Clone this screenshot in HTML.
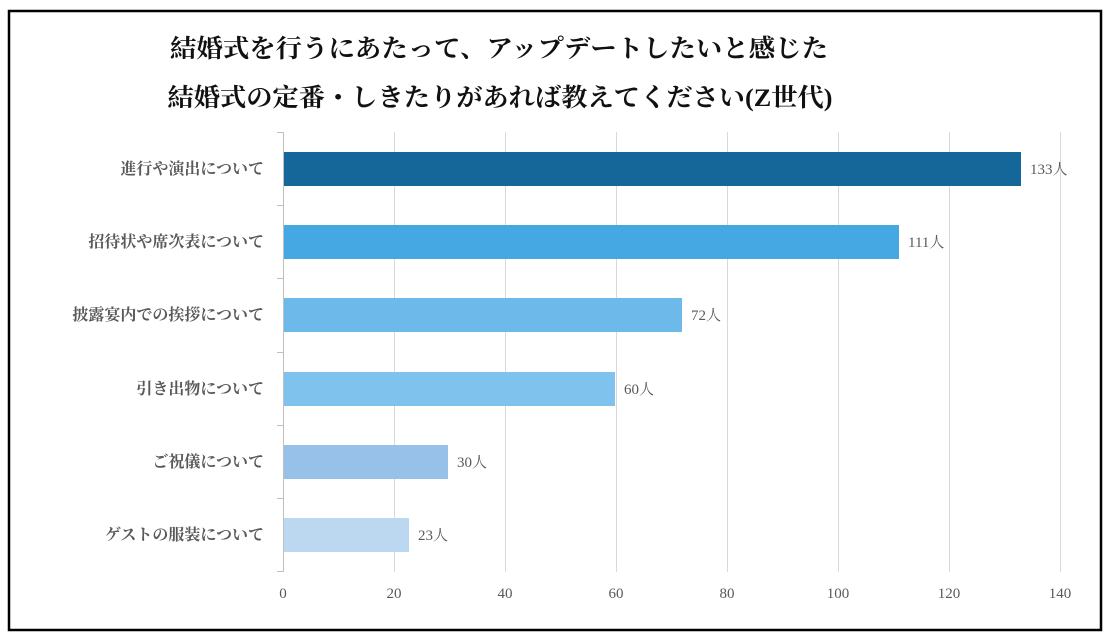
<!DOCTYPE html>
<html><head><meta charset="utf-8"><style>
html,body{margin:0;padding:0;background:#fff;}
body{width:1115px;height:644px;position:relative;overflow:hidden;}
</style></head><body>
<svg width="1115" height="644" xmlns="http://www.w3.org/2000/svg" style="position:absolute;left:0;top:0">
<rect x="9" y="11" width="1092" height="619" fill="#fff" stroke="#000" stroke-width="2.5"/>
<g font-family="'Liberation Serif','Noto Serif CJK SC',serif" font-weight="bold" font-size="25" fill="#111" text-anchor="middle">
<text x="499" y="57" textLength="658" lengthAdjust="spacingAndGlyphs">結婚式を行うにあたって、アップデートしたいと感じた</text>
<text x="500" y="106" textLength="665" lengthAdjust="spacingAndGlyphs">結婚式の定番・しきたりがあれば教えてください(Z世代)</text>
</g>
<g stroke="#d9d9d9" stroke-width="1">
<line x1="394.5" y1="132" x2="394.5" y2="572"/>
<line x1="505.5" y1="132" x2="505.5" y2="572"/>
<line x1="616.5" y1="132" x2="616.5" y2="572"/>
<line x1="727.5" y1="132" x2="727.5" y2="572"/>
<line x1="838.5" y1="132" x2="838.5" y2="572"/>
<line x1="949.5" y1="132" x2="949.5" y2="572"/>
<line x1="1060.5" y1="132" x2="1060.5" y2="572"/>
<line x1="283.5" y1="132" x2="283.5" y2="572" stroke="#bfbfbf"/>
<g stroke="#bfbfbf">
<line x1="277" y1="132.5" x2="283" y2="132.5"/>
<line x1="277" y1="205.5" x2="283" y2="205.5"/>
<line x1="277" y1="278.5" x2="283" y2="278.5"/>
<line x1="277" y1="352.5" x2="283" y2="352.5"/>
<line x1="277" y1="425.5" x2="283" y2="425.5"/>
<line x1="277" y1="498.5" x2="283" y2="498.5"/>
<line x1="277" y1="571.5" x2="283" y2="571.5"/>
</g>
</g>
<rect x="284" y="152" width="737" height="34" fill="#156799"/>
<rect x="284" y="225" width="615" height="34" fill="#46a8e3"/>
<rect x="284" y="298" width="398" height="34" fill="#6cb9ea"/>
<rect x="284" y="372" width="331" height="34" fill="#80c2ee"/>
<rect x="284" y="445" width="164" height="34" fill="#97c1e8"/>
<rect x="284" y="518" width="125" height="34" fill="#bcd7f0"/>
<g font-family="'Liberation Serif','Noto Serif CJK JP',serif" font-size="15" fill="#595959">
<text x="1030" y="174">133人</text>
<text x="908" y="247">111人</text>
<text x="691" y="320">72人</text>
<text x="624" y="394">60人</text>
<text x="457" y="467">30人</text>
<text x="418" y="540">23人</text>
</g>
<g font-family="'Liberation Serif','Noto Serif CJK JP',serif" font-size="15" fill="#595959" text-anchor="middle">
<text x="283" y="598">0</text><text x="394" y="598">20</text><text x="505" y="598">40</text>
<text x="616" y="598">60</text><text x="727" y="598">80</text><text x="838" y="598">100</text>
<text x="949" y="598">120</text><text x="1060" y="598">140</text>
</g>
<g font-family="'Liberation Serif','Noto Serif CJK JP',serif" font-weight="bold" font-size="16" fill="#595959" text-anchor="end">
<text x="264" y="174">進行や演出について</text>
<text x="264" y="247">招待状や席次表について</text>
<text x="264" y="320">披露宴内での挨拶について</text>
<text x="264" y="394">引き出物について</text>
<text x="264" y="467">ご祝儀について</text>
<text x="264" y="540">ゲストの服装について</text>
</g>
</svg>
</body></html>
